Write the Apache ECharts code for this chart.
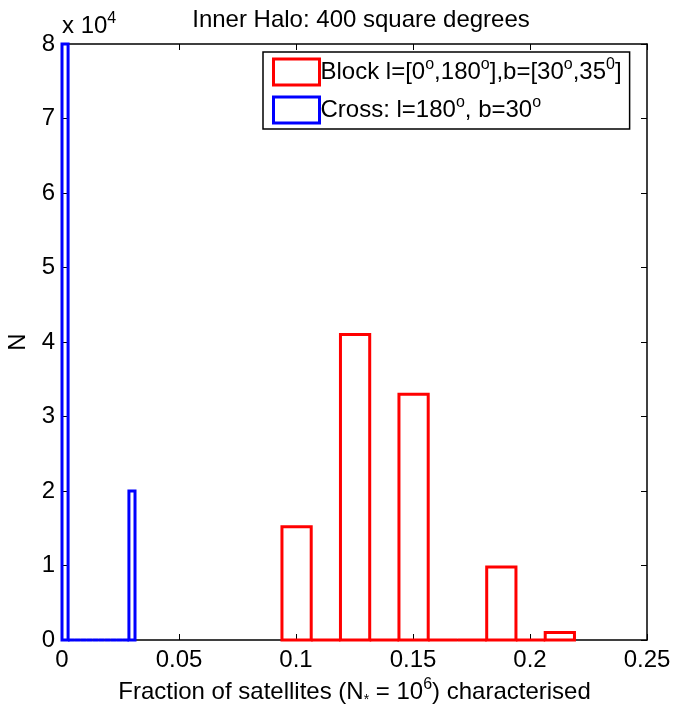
<!DOCTYPE html>
<html>
<head>
<meta charset="utf-8">
<script src="https://cdn.jsdelivr.net/npm/echarts@6/dist/echarts.min.js"></script>
<style>
  html, body { margin: 0; padding: 0; background: #fff; }
  #main { width: 673px; height: 706px; }
</style>
</head>
<body>
<div id="main"></div>
<script>
// histogram bins: edges and counts
var redEdges = [0.094, 0.1065, 0.119, 0.1315, 0.144, 0.1565, 0.169, 0.1815, 0.194, 0.2065, 0.219];
var redCounts = [15200, 0, 41000, 0, 33000, 0, 0, 9800, 0, 1000];
var blueEdges = [0, 0.0026, 0.0052, 0.0078, 0.0104, 0.013, 0.0156, 0.0182, 0.0208, 0.0234, 0.026, 0.0286, 0.0312];
var blueCounts = [80000, 0, 0, 0, 0, 0, 0, 0, 0, 0, 0, 20000];
var xTicks = [0, 0.05, 0.1, 0.15, 0.2, 0.25];
var yTicks = [0, 1, 2, 3, 4, 5, 6, 7, 8];

var font = 'Liberation Sans, Arial, Helvetica, sans-serif';

function binData(edges, counts) {
    var out = [];
    for (var i = 0; i < counts.length; i++) {
        out.push([edges[i], edges[i + 1], counts[i]]);
    }
    return out;
}

// draws each bin as an outlined box, like matlab's hist
function histItem(params, api) {
    var p0 = api.coord([api.value(0), 0]);
    var p1 = api.coord([api.value(1), api.value(2)]);
    return {
        type: 'rect',
        shape: { x: p0[0], y: p1[1], width: p1[0] - p0[0], height: p0[1] - p1[1] },
        style: { fill: 'none', stroke: api.visual('color'), lineWidth: 3 }
    };
}

var sup = { fontSize: 16, verticalAlign: 'top', fontFamily: font, color: '#000', lineHeight: 24 };

var myChart = echarts.init(document.getElementById('main'));

var option = {
    animation: false,
    backgroundColor: '#fff',
    title: {
        text: 'Inner Halo: 400 square degrees',
        left: 356,
        textAlign: 'center',
        top: 3,
        textStyle: { fontFamily: font, fontSize: 24, fontWeight: 'normal', color: '#000' }
    },
    grid: { left: 62, right: 26, top: 44, bottom: 66, outerBoundsMode: 'none', containLabel: false },
    legend: {
        orient: 'vertical',
        left: 263,
        top: 52,
        padding: [5, 8, 4, 9],
        itemWidth: 46,
        itemHeight: 26,
        itemGap: 8,
        borderColor: '#000',
        borderWidth: 1.5,
        backgroundColor: '#fff',
        selectedMode: false,
        data: [
            { name: 'Block', icon: 'rect', itemStyle: { color: '#fff', borderColor: '#ff0000', borderWidth: 3 } },
            { name: 'Cross', icon: 'rect', itemStyle: { color: '#fff', borderColor: '#0000ff', borderWidth: 3 } }
        ],
        formatter: function (name) {
            if (name == 'Block') {
                return 'Block l=[0{s|o},180{s|o}],b=[30{s|o},35{s|0}]';
            }
            return 'Cross: l=180{s|o}, b=30{s|o}';
        },
        textStyle: {
            fontFamily: font, fontSize: 24, color: '#000', lineHeight: 30, padding: [0, 0, 0, -4],
            rich: { s: sup }
        }
    },
    graphic: [{
        type: 'text',
        left: 62,
        top: 11,
        style: {
            text: 'x 10{s|4}',
            fontFamily: font,
            fontSize: 24,
            fill: '#000',
            lineHeight: 30,
            rich: { s: sup }
        }
    }],
    xAxis: [{
        type: 'value',
        min: 0,
        max: 0.25,
        interval: 0.05,
        position: 'bottom',
        name: 'Fraction of satellites (N{sub|*} = 10{s|6}) characterised',
        nameLocation: 'middle',
        nameGap: 34,
        nameTextStyle: {
            fontFamily: font, fontSize: 24, color: '#000', lineHeight: 30,
            rich: {
                s: sup,
                sub: { fontSize: 14, verticalAlign: 'bottom', fontFamily: font, color: '#000', lineHeight: 24 }
            }
        },
        splitLine: { show: false },
        axisLine: { onZero: false, lineStyle: { color: '#000', width: 1.5 } },
        axisTick: { inside: true, length: 6, lineStyle: { color: '#000' } },
        axisLabel: {
            margin: 8, fontFamily: font, fontSize: 24, color: '#000',
            customValues: xTicks
        }
    }, {
        type: 'value',
        min: 0,
        max: 0.25,
        interval: 0.05,
        position: 'top',
        splitLine: { show: false },
        axisLine: { onZero: false, lineStyle: { color: '#000', width: 1.5 } },
        axisTick: { inside: true, length: 6, lineStyle: { color: '#000' } },
        axisLabel: { show: false }
    }],
    yAxis: [{
        type: 'value',
        min: 0,
        max: 80000,
        interval: 10000,
        position: 'left',
        name: 'N',
        nameLocation: 'middle',
        nameGap: 28,
        nameTextStyle: { fontFamily: font, fontSize: 24, color: '#000' },
        splitLine: { show: false },
        axisLine: { show: true, onZero: false, lineStyle: { color: '#000', width: 1.5 } },
        axisTick: { show: true, inside: true, length: 6, lineStyle: { color: '#000' } },
        axisLabel: {
            margin: 7, fontFamily: font, fontSize: 24, color: '#000',
            formatter: function (v) { return yTicks[Math.round(v / 10000)]; }
        }
    }, {
        type: 'value',
        min: 0,
        max: 80000,
        interval: 10000,
        position: 'right',
        splitLine: { show: false },
        axisLine: { show: true, onZero: false, lineStyle: { color: '#000', width: 1.5 } },
        axisTick: { show: true, inside: true, length: 6, lineStyle: { color: '#000' } },
        axisLabel: { show: false }
    }],
    series: [{
        name: 'Block',
        type: 'custom',
        renderItem: histItem,
        itemStyle: { color: '#ff0000' },
        encode: { x: [0, 1], y: 2 },
        data: binData(redEdges, redCounts),
        z: 3
    }, {
        name: 'Cross',
        type: 'custom',
        renderItem: histItem,
        itemStyle: { color: '#0000ff' },
        encode: { x: [0, 1], y: 2 },
        data: binData(blueEdges, blueCounts),
        z: 3
    }]
};

myChart.setOption(option);
</script>
</body>
</html>
